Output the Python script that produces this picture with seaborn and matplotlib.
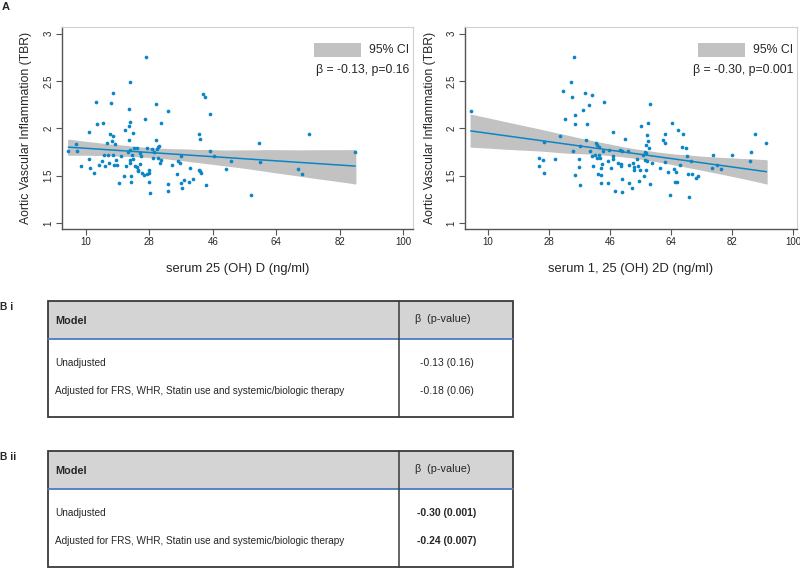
import matplotlib.pyplot as plt
import matplotlib.patches as mpatches
import seaborn as sns
import pandas as pd

# panel A data
vitd_x = [5.0, 7.2, 7.5, 8.5, 10.9, 10.9, 11.2, 12.4, 12.8, 13.2, 13.8, 14.5, 14.8, 15.1, 15.5, 16.1,
          16.3, 16.5, 16.7, 17.2, 17.3, 17.6, 17.6, 17.8, 17.9, 18.2, 18.4, 18.7, 19.5, 19.8, 20.7, 21.0,
          21.4, 22.0, 22.2, 22.2, 22.2, 22.4, 22.5, 22.5, 22.6, 22.6, 22.8, 22.9, 23.2, 23.3, 23.4, 23.6,
          23.9, 24.4, 24.5, 24.7, 24.9, 25.2, 25.3, 25.5, 25.8, 26.4, 26.7, 27.0, 27.2, 27.2, 27.8, 27.9,
          28.0, 28.2, 28.7, 28.9, 29.3, 29.8, 30.0, 30.1, 30.3, 30.4, 30.7, 31.0, 31.4, 31.4, 33.2, 33.4,
          33.4, 34.4, 35.7, 36.2, 36.7, 37.0, 37.1, 37.2, 37.9, 39.3, 39.5, 40.3, 42.0, 42.2, 42.4, 42.4,
          42.6, 43.1, 43.8, 44.0, 45.1, 45.2, 46.3, 49.8, 51.2, 56.8, 59.0, 59.4, 70.3, 71.4, 73.4, 86.4]
vitd_y = [1.765, 1.836, 1.765, 1.60, 1.963, 1.68, 1.58, 1.53, 2.28, 2.05, 1.61, 1.65, 2.06, 1.716, 1.607, 1.84,
          1.716, 1.63, 1.935, 2.27, 1.864, 2.37, 1.72, 1.924, 1.61, 1.83, 1.67, 1.61, 1.42, 1.71, 1.50, 1.98,
          1.60, 1.75, 2.20, 2.02, 1.875, 1.63, 1.67, 2.49, 2.065, 1.77, 1.50, 1.43, 1.72, 1.95, 1.68, 1.79,
          1.60, 1.79, 1.59, 1.565, 1.55, 1.74, 1.62, 1.705, 1.53, 1.51, 2.10, 2.75, 1.79, 1.52, 1.525, 1.43,
          1.565, 1.32, 1.78, 1.685, 1.75, 1.88, 2.26, 1.78, 1.685, 1.80, 1.81, 1.63, 2.055, 1.67, 2.18, 1.41,
          1.34, 1.61, 1.515, 1.66, 1.635, 1.42, 1.705, 1.37, 1.45, 1.43, 1.58, 1.47, 1.565, 1.94, 1.89, 1.55,
          1.525, 2.36, 2.33, 1.40, 1.76, 2.15, 1.71, 1.575, 1.66, 1.30, 1.84, 1.64, 1.57, 1.52, 1.94, 1.75]

calc_x = [5.0, 25.0, 25.1, 26.4, 26.6, 26.7, 29.7, 31.2, 32.2, 32.9, 34.5, 34.8, 35.2, 35.4, 35.7, 35.8,
          35.8, 37.0, 37.0, 37.1, 37.3, 38.1, 38.6, 39.0, 39.3, 40.0, 40.3, 40.7, 40.7, 40.9, 41.7, 42.0,
          42.1, 42.3, 42.4, 42.7, 42.9, 43.1, 43.3, 43.4, 43.5, 43.8, 44.1, 44.4, 45.6, 45.6, 45.7, 46.4,
          46.9, 47.0, 47.0, 47.4, 48.3, 49.0, 49.2, 49.2, 49.5, 49.7, 49.7, 50.6, 51.5, 51.6, 51.7, 52.4,
          52.7, 53.1, 53.2, 54.0, 54.3, 54.5, 54.8, 55.3, 55.7, 56.0, 56.3, 56.4, 56.6, 56.6, 56.8, 56.9,
          57.1, 57.2, 57.4, 57.7, 57.8, 58.0, 58.5, 60.9, 61.8, 62.2, 62.2, 62.4, 63.3, 63.8, 64.2, 64.8,
          65.2, 65.6, 65.9, 66.2, 66.6, 67.4, 67.6, 68.6, 68.9, 69.0, 69.5, 70.0, 70.3, 71.5, 72.1, 76.1,
          76.4, 77.5, 78.9, 82.0, 87.3, 87.7, 88.7, 92.2]
calc_y = [2.18, 1.607, 1.69, 1.67, 1.53, 1.86, 1.68, 1.92, 2.39, 2.10, 2.49, 2.33, 1.765, 2.75, 1.51, 2.14,
          2.05, 1.68, 1.59, 1.40, 1.81, 2.19, 2.37, 1.875, 2.05, 2.25, 1.76, 2.35, 1.705, 1.607, 1.716, 1.84,
          1.82, 1.69, 1.52, 1.80, 1.72, 1.69, 1.42, 1.585, 1.51, 1.62, 1.76, 2.28, 1.656, 1.42, 1.77, 1.58,
          1.68, 1.96, 1.71, 1.34, 1.635, 1.77, 1.62, 1.60, 1.76, 1.47, 1.325, 1.89, 1.76, 1.42, 1.61, 1.37,
          1.635, 1.59, 1.56, 1.68, 1.60, 1.44, 1.565, 2.02, 1.72, 1.50, 1.67, 1.75, 1.565, 1.825, 1.74, 1.656,
          1.93, 1.864, 2.06, 1.79, 2.26, 1.41, 1.635, 1.58, 1.875, 1.84, 1.945, 1.64, 1.536, 1.30, 2.06, 1.57,
          1.43, 1.54, 1.43, 1.98, 1.61, 1.80, 1.94, 1.79, 1.705, 1.52, 1.27, 1.66, 1.52, 1.48, 1.50, 1.58,
          1.716, 1.61, 1.57, 1.716, 1.66, 1.75, 1.94, 1.85]

x_labels = ['serum 25 (OH) D (ng/ml)', 'serum 1, 25 (OH) 2D (ng/ml)']
y_label = 'Aortic Vascular Inflammation (TBR)'
beta_text = ['\u03b2 = -0.13, p=0.16', '\u03b2 = -0.30, p=0.001']
x_ticks = [10, 28, 46, 64, 82, 100]
y_ticks = [1, 1.5, 2, 2.5, 3]
y_tick_labels = ['1', '1.5', '2', '2.5', '3']

# panel B tables
table_titles = ['B i', 'B ii']
col_headers = ['Model', '\u03b2  (p-value)']
models = ['Unadjusted', 'Adjusted for FRS, WHR, Statin use and systemic/biologic therapy']
results_i = ['-0.13 (0.16)', '-0.18 (0.06)']
results_ii = ['-0.30 (0.001)', '-0.24 (0.007)']

blue = '#0a86c6'
ci_gray = '#c2c2c2'
sns.set_style('white')
plt.rcParams['font.family'] = ['Liberation Sans', 'DejaVu Sans']

W, H = 800, 568
fig = plt.figure(figsize=(8, 5.68), dpi=100)


def px_axes(left, top, right, bottom):
    return fig.add_axes([left / W, 1 - bottom / H, (right - left) / W, (bottom - top) / H])


# background axes in pixel coords for labels and tables
bg = fig.add_axes([0, 0, 1, 1], zorder=-1)
bg.set_xlim(0, W)
bg.set_ylim(H, 0)
bg.axis('off')
bg.text(2, 7, 'A', fontsize=8, fontweight='bold', va='center', ha='left')

panels = [(px_axes(62, 27, 413, 229), vitd_x, vitd_y, (3.2, 102.8)),
          (px_axes(465, 27, 797, 229), calc_x, calc_y, (3.3, 101.2))]

for i, (ax, xs, ys, xlim) in enumerate(panels):
    df = pd.DataFrame({'x': xs, 'y': ys})
    sns.regplot(data=df, x='x', y='y', ax=ax, scatter=False, ci=95, seed=3,
                color=blue, line_kws={'lw': 1.1, 'zorder': 3})
    band = ax.collections[-1]
    band.set_facecolor(ci_gray)
    band.set_edgecolor(ci_gray)
    band.set_alpha(1)
    band.set_zorder(1)
    sns.scatterplot(data=df, x='x', y='y', ax=ax, s=7, color=blue, linewidth=0, zorder=4)

    ax.set_xlim(*xlim)
    ax.set_ylim(0.937, 3.07)
    ax.set_xticks(x_ticks)
    ax.set_yticks(y_ticks)
    ax.set_yticklabels(y_tick_labels, rotation=90, va='center')
    ax.tick_params(axis='both', labelsize=7, length=4, width=0.8, color='#555555', direction='out',
                   left=True, bottom=True, pad=2)
    for side in ['top', 'right']:
        ax.spines[side].set_color('#d0d0d0')
        ax.spines[side].set_linewidth(0.8)
    for side in ['left', 'bottom']:
        ax.spines[side].set_color('#555555')
        ax.spines[side].set_linewidth(1.0)
    ax.set_xlabel(x_labels[i], fontsize=9.4)
    ax.set_ylabel(y_label, fontsize=8.8)
    ax.xaxis.set_label_coords(0.5, -0.17)
    ax.yaxis.set_label_coords(-0.086, 0.5)

    # legend box: gray patch + text
    aw = ax.get_position().width * W
    ah = ax.get_position().height * H
    tx = 1 - 4 / aw
    ax.text(tx, 1 - 23 / ah, '95% CI', transform=ax.transAxes, ha='right', va='center', fontsize=8.8)
    ax.text(tx, 1 - 43 / ah, beta_text[i], transform=ax.transAxes, ha='right', va='center', fontsize=8.8)
    ax.add_patch(mpatches.Rectangle((1 - 99 / aw, 1 - 30 / ah), 47 / aw, 14 / ah, transform=ax.transAxes,
                                    facecolor=ci_gray, edgecolor='none', zorder=5))

# tables
tfs = 7.2
tables = [(table_titles[0], 301, results_i, 'normal'), (table_titles[1], 451, results_ii, 'bold')]
for title, top, vals, weight in tables:
    left, right, div = 48, 513, 399
    head_b = top + 38
    bottom = top + 116
    bg.text(0, top + 6, title, fontsize=7.4, fontweight='bold', va='center', ha='left')
    bg.add_patch(mpatches.Rectangle((left, top), right - left, head_b - top, facecolor='#d4d4d4',
                                    edgecolor='none'))
    bg.add_patch(mpatches.Rectangle((left, top), right - left, bottom - top, facecolor='none',
                                    edgecolor='#3a3a3a', lw=1.3))
    bg.plot([left, right], [head_b, head_b], color='#4f7ac0', lw=1.3)
    bg.plot([div, div], [top, bottom], color='#3a3a3a', lw=1.1)
    bg.text(55, top + 20, col_headers[0], fontsize=tfs + 0.6, fontweight='bold', va='center')
    bg.text(443, top + 18, col_headers[1], fontsize=tfs + 0.6, va='center', ha='center')
    for j, (m, v) in enumerate(zip(models, vals)):
        yy = top + 62 + j * 28.5
        bg.text(55, yy, m, fontsize=tfs, va='center')
        bg.text(447, yy, v, fontsize=tfs + 0.3, va='center', ha='center', fontweight=weight)

plt.savefig('out.png', dpi=100)
